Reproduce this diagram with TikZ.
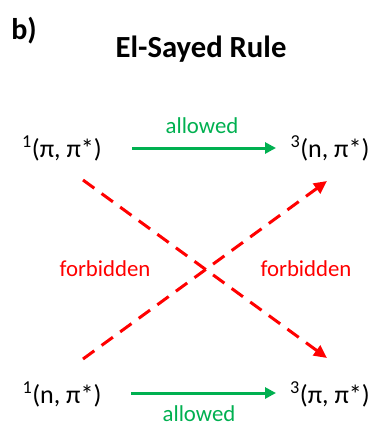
\documentclass[tikz,border=0pt]{standalone}
\usepackage{fontspec}
\setmainfont{Carlito}
\usetikzlibrary{arrows.meta}
\definecolor{okgreen}{RGB}{0,176,80}
\definecolor{fred}{RGB}{255,0,0}
\begin{document}
\begin{tikzpicture}[x=1pt,y=-1pt,
  state/.style={inner sep=0pt,anchor=base,font=\fontsize{26}{30}\selectfont},
  lbl/.style={inner sep=0pt,anchor=base,font=\fontsize{22.8}{26}\selectfont},
  allow/.style={okgreen,line width=3pt,-{Triangle[length=11pt,width=11pt]}},
  forb/.style={fred,line width=3pt,dash pattern=on 14pt off 9pt,-{Triangle[length=13pt,width=12pt]}}]
\useasboundingbox (0,0) rectangle (372,426);
\node[inner sep=0pt,anchor=base,font=\fontsize{30}{34}\selectfont\bfseries] (b) at (24,39) {b)};
\node[inner sep=0pt,anchor=base,font=\fontsize{30.7}{34}\selectfont\bfseries] (title) at (201,57) {El-Sayed Rule};
\node[state] (p1) at (62,157) {\textsuperscript{1}(π, π*)};
\node[state] (n3) at (330,157) {\textsuperscript{3}(n, π*)};
\node[state] (n1) at (62,403) {\textsuperscript{1}(n, π*)};
\node[state] (pp3) at (330,403) {\textsuperscript{3}(π, π*)};
\node[lbl,text=okgreen] (al1) at (202,133) {allowed};
\node[lbl,text=okgreen] (al2) at (199,421) {allowed};
\node[lbl,text=fred] (f1) at (105,276) {forbidden};
\node[lbl,text=fred] (f2) at (306,276) {forbidden};
\draw[allow] ([shift={(70,-9)}]p1.base) -- ([shift={(-54,-9)}]n3.base);
\draw[allow] ([shift={(69,-10)}]n1.base) -- ([shift={(-54,-10)}]pp3.base);
\draw[forb] ([shift={(21,23)}]p1.base) -- ([shift={(-3,-45)}]pp3.base);
\draw[forb] ([shift={(21,-44)}]n1.base) -- ([shift={(-3,24)}]n3.base);
\end{tikzpicture}
\end{document}
